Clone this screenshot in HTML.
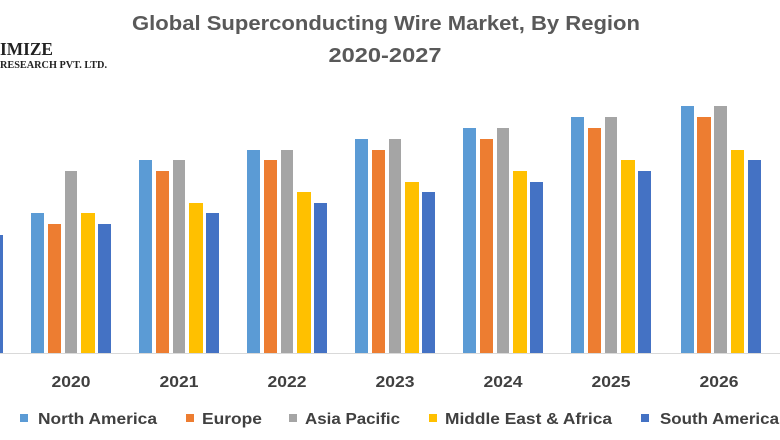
<!DOCTYPE html>
<html><head><meta charset="utf-8"><style>
body{margin:0;background:#fff;}
svg{display:block;font-family:"Liberation Sans",sans-serif;}
</style></head><body>
<svg width="780" height="440" viewBox="0 0 780 440" xmlns="http://www.w3.org/2000/svg">
<rect width="780" height="440" fill="#fff"/>
<text x="386" y="30" text-anchor="middle" font-size="20" font-weight="bold" fill="#595959" textLength="508" lengthAdjust="spacingAndGlyphs">Global Superconducting Wire Market, By Region</text>
<text x="385" y="62" text-anchor="middle" font-size="20" font-weight="bold" fill="#595959" textLength="113" lengthAdjust="spacingAndGlyphs">2020-2027</text>
<text x="0" y="55" font-family="Liberation Serif,serif" font-size="18" font-weight="bold" fill="#222" textLength="53" lengthAdjust="spacingAndGlyphs">IMIZE</text>
<text x="0" y="68" font-family="Liberation Serif,serif" font-size="10" font-weight="bold" fill="#222" textLength="107" lengthAdjust="spacingAndGlyphs">RESEARCH PVT. LTD.</text>
<line x1="0" y1="353.5" x2="780" y2="353.5" stroke="#d9d9d9" stroke-width="1"/>
<rect x="0" y="235" width="3" height="118" fill="#4472C4"/>
<g font-size="16" font-weight="bold" fill="#404040" text-anchor="middle">
<text x="71" y="387" textLength="39" lengthAdjust="spacingAndGlyphs">2020</text><text x="179" y="387" textLength="39" lengthAdjust="spacingAndGlyphs">2021</text><text x="287" y="387" textLength="39" lengthAdjust="spacingAndGlyphs">2022</text><text x="395" y="387" textLength="39" lengthAdjust="spacingAndGlyphs">2023</text><text x="503" y="387" textLength="39" lengthAdjust="spacingAndGlyphs">2024</text><text x="611" y="387" textLength="39" lengthAdjust="spacingAndGlyphs">2025</text><text x="719" y="387" textLength="39" lengthAdjust="spacingAndGlyphs">2026</text>
</g>
<g font-size="16" fill="#404040" font-weight="bold">
<rect x="20" y="414" width="8" height="8" fill="#5B9BD5"/><text x="38" y="424" textLength="119" lengthAdjust="spacingAndGlyphs">North America</text>
<rect x="186" y="414" width="8" height="8" fill="#ED7D31"/><text x="202" y="424" textLength="60" lengthAdjust="spacingAndGlyphs">Europe</text>
<rect x="289" y="414" width="8" height="8" fill="#A5A5A5"/><text x="305" y="424" textLength="95" lengthAdjust="spacingAndGlyphs">Asia Pacific</text>
<rect x="429" y="414" width="8" height="8" fill="#FFC000"/><text x="445" y="424" textLength="167" lengthAdjust="spacingAndGlyphs">Middle East &amp; Africa</text>
<rect x="641" y="414" width="8" height="8" fill="#4472C4"/><text x="660" y="424" textLength="119" lengthAdjust="spacingAndGlyphs">South America</text>
</g>
<g>
<rect x="31" y="213" width="13" height="140" fill="#5B9BD5"/><rect x="48" y="224" width="13" height="129" fill="#ED7D31"/><rect x="65" y="171" width="12" height="182" fill="#A5A5A5"/><rect x="81" y="213" width="14" height="140" fill="#FFC000"/><rect x="98" y="224" width="13" height="129" fill="#4472C4"/>
<rect x="139" y="160" width="13" height="193" fill="#5B9BD5"/><rect x="156" y="171" width="13" height="182" fill="#ED7D31"/><rect x="173" y="160" width="12" height="193" fill="#A5A5A5"/><rect x="189" y="203" width="14" height="150" fill="#FFC000"/><rect x="206" y="213" width="13" height="140" fill="#4472C4"/>
<rect x="247" y="150" width="13" height="203" fill="#5B9BD5"/><rect x="264" y="160" width="13" height="193" fill="#ED7D31"/><rect x="281" y="150" width="12" height="203" fill="#A5A5A5"/><rect x="297" y="192" width="14" height="161" fill="#FFC000"/><rect x="314" y="203" width="13" height="150" fill="#4472C4"/>
<rect x="355" y="139" width="13" height="214" fill="#5B9BD5"/><rect x="372" y="150" width="13" height="203" fill="#ED7D31"/><rect x="389" y="139" width="12" height="214" fill="#A5A5A5"/><rect x="405" y="182" width="14" height="171" fill="#FFC000"/><rect x="422" y="192" width="13" height="161" fill="#4472C4"/>
<rect x="463" y="128" width="13" height="225" fill="#5B9BD5"/><rect x="480" y="139" width="13" height="214" fill="#ED7D31"/><rect x="497" y="128" width="12" height="225" fill="#A5A5A5"/><rect x="513" y="171" width="14" height="182" fill="#FFC000"/><rect x="530" y="182" width="13" height="171" fill="#4472C4"/>
<rect x="571" y="117" width="13" height="236" fill="#5B9BD5"/><rect x="588" y="128" width="13" height="225" fill="#ED7D31"/><rect x="605" y="117" width="12" height="236" fill="#A5A5A5"/><rect x="621" y="160" width="14" height="193" fill="#FFC000"/><rect x="638" y="171" width="13" height="182" fill="#4472C4"/>
<rect x="681" y="106" width="13" height="247" fill="#5B9BD5"/><rect x="697" y="117" width="14" height="236" fill="#ED7D31"/><rect x="714" y="106" width="13" height="247" fill="#A5A5A5"/><rect x="731" y="150" width="13" height="203" fill="#FFC000"/><rect x="748" y="160" width="13" height="193" fill="#4472C4"/>
</g>
</svg>
</body></html>
